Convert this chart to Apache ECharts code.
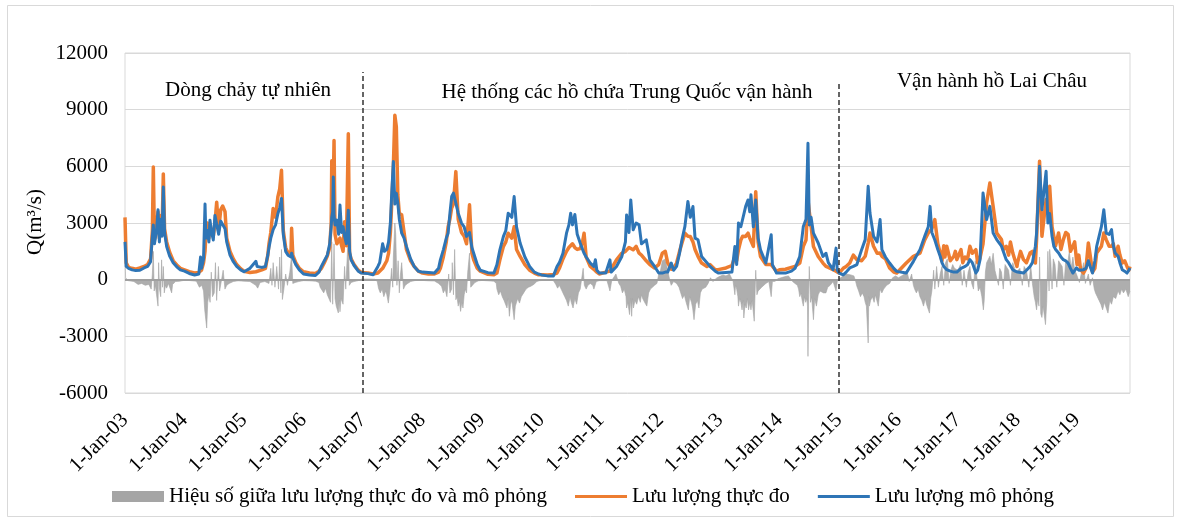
<!DOCTYPE html>
<html><head><meta charset="utf-8">
<script src="https://cdn.jsdelivr.net/npm/echarts@6/dist/echarts.min.js"></script>
<style>html,body{margin:0;padding:0;background:#fff}#c{width:1180px;height:522px}</style>
</head><body><div id="c"></div>
<script>
const yearTicks = ['1-Jan-03','1-Jan-04','1-Jan-05','1-Jan-06','1-Jan-07','1-Jan-08','1-Jan-09','1-Jan-10','1-Jan-11','1-Jan-12','1-Jan-13','1-Jan-14','1-Jan-15','1-Jan-16','1-Jan-17','1-Jan-18','1-Jan-19'];
const periodLabels = ['Dòng chảy tự nhiên','Hệ thống các hồ chứa Trung Quốc vận hành','Vận hành hồ Lai Châu'];
const periodBreaks = [2007, 2015];
const seriesNames = ['Hiệu số giữa lưu lượng thực đo và mô phỏng','Lưu lượng thực đo','Lưu lượng mô phỏng'];
const yTitle = 'Q(m³/s)';

// decimal year of each flow point
const flowDates = [
2003.000,2003.020,2003.060,2003.120,2003.180,2003.250,2003.320,2003.380,2003.430,2003.460,2003.476,2003.495,2003.530,2003.555,2003.578,2003.600,2003.622,2003.644,2003.665,2003.700,2003.750,2003.810,2003.870,2003.930,
2004.000,2004.080,2004.170,2004.240,2004.270,2004.285,2004.320,2004.345,2004.360,2004.385,2004.410,2004.428,2004.455,2004.484,2004.512,2004.541,2004.574,2004.608,2004.641,2004.681,2004.709,2004.765,2004.821,2004.877,2004.944,
2005.000,2005.100,2005.200,2005.220,2005.300,2005.360,2005.400,2005.420,2005.450,2005.490,2005.530,2005.570,2005.600,2005.630,2005.660,2005.700,2005.740,2005.790,2005.800,2005.820,2005.870,2005.930,
2006.000,2006.100,2006.200,2006.260,2006.300,2006.350,2006.400,2006.440,2006.465,2006.475,2006.490,2006.501,2006.513,2006.530,2006.560,2006.590,2006.613,2006.640,2006.665,2006.690,2006.720,2006.753,2006.775,2006.800,2006.850,2006.920,2006.970,
2007.000,2007.080,2007.170,2007.250,2007.280,2007.330,2007.360,2007.400,2007.430,2007.460,2007.480,2007.510,2007.535,2007.560,2007.585,2007.610,2007.650,2007.690,2007.730,2007.800,2007.860,2007.930,
2008.000,2008.100,2008.200,2008.270,2008.300,2008.350,2008.400,2008.430,2008.460,2008.490,2008.520,2008.560,2008.600,2008.655,2008.700,2008.740,2008.790,2008.830,2008.860,2008.920,2008.970,
2009.000,2009.100,2009.200,2009.250,2009.300,2009.360,2009.400,2009.440,2009.500,2009.540,2009.580,2009.640,2009.720,2009.800,2009.880,2009.950,
2010.000,2010.100,2010.200,2010.260,2010.300,2010.360,2010.420,2010.460,2010.490,2010.520,2010.560,2010.600,2010.650,2010.690,2010.715,2010.750,2010.820,2010.880,2010.905,2010.930,2010.970,
2011.000,2011.080,2011.150,2011.170,2011.260,2011.350,2011.410,2011.430,2011.470,2011.500,2011.540,2011.590,2011.640,2011.680,2011.760,2011.820,2011.900,2011.970,
2012.000,2012.030,2012.080,2012.120,2012.180,2012.220,2012.270,2012.320,2012.360,2012.410,2012.460,2012.500,2012.545,2012.580,2012.630,2012.690,2012.780,2012.830,2012.920,2012.970,
2013.000,2013.100,2013.200,2013.250,2013.280,2013.310,2013.350,2013.380,2013.430,2013.470,2013.500,2013.520,2013.560,2013.600,2013.640,2013.680,2013.770,2013.860,2013.880,2013.950,
2014.000,2014.100,2014.200,2014.260,2014.340,2014.400,2014.445,2014.478,2014.500,2014.530,2014.570,2014.650,2014.730,2014.780,2014.820,2014.900,2014.950,2014.970,
2015.000,2015.070,2015.120,2015.180,2015.240,2015.300,2015.380,2015.440,2015.490,2015.520,2015.580,2015.640,2015.690,2015.720,2015.780,2015.850,2015.920,2015.970,
2016.000,2016.130,2016.250,2016.360,2016.440,2016.500,2016.530,2016.560,2016.610,2016.660,2016.700,2016.730,2016.760,2016.780,2016.810,2016.840,2016.870,2016.900,2016.930,2016.955,2016.980,
2017.000,2017.050,2017.080,2017.120,2017.160,2017.200,2017.240,2017.300,2017.330,2017.370,2017.420,2017.480,2017.535,2017.590,2017.650,2017.730,2017.760,2017.810,2017.850,2017.880,2017.920,2017.960,2017.990,
2018.000,2018.050,2018.100,2018.150,2018.210,2018.250,2018.300,2018.320,2018.370,2018.410,2018.480,2018.510,2018.540,2018.580,2018.610,2018.640,2018.690,2018.730,2018.770,2018.810,2018.850,2018.890,2018.930,2018.960,2018.990,
2019.000,2019.030,2019.060,2019.110,2019.150,2019.190,2019.220,2019.260,2019.300,2019.330,2019.410,2019.450,2019.490,2019.540,2019.580,2019.610,2019.640,2019.690,2019.720,2019.760,2019.800,2019.840,2019.870,2019.890
];
// observed discharge (m3/s)
const observed = [
3300,900,650,600,560,620,700,800,1100,2600,5960,2100,2800,3600,2200,3400,2500,5600,2700,2000,1450,1000,780,600,
520,420,350,380,450,500,900,1500,2400,3000,2200,2800,2600,2300,3000,4100,2600,3700,3900,3600,2200,1500,1100,800,580,
450,380,420,500,520,600,1300,1900,2500,3770,3300,4400,4800,5790,2600,1700,1400,1500,2720,1300,900,600,
420,350,330,450,600,900,1250,1700,3000,6300,3400,5000,7370,2400,1900,2000,2200,1800,1500,3070,1800,7720,1400,1100,800,500,380,
380,350,300,350,400,600,700,1000,1400,2500,3870,6000,8700,8100,4500,3500,3430,2500,1600,1000,700,450,
350,300,300,400,600,1200,2000,2800,3200,3800,4000,5720,3200,2500,2300,1900,3960,1400,1050,600,450,
350,280,260,350,1050,1760,2000,2460,2200,2800,1600,1230,800,500,350,260,
260,250,280,350,600,1100,1500,1700,1800,1900,1700,1600,1650,2000,2460,1200,700,550,500,400,300,
350,400,450,450,1050,1400,1500,1580,1700,1750,1580,1760,1400,1300,1000,800,620,800,
900,1400,1500,900,550,600,880,1500,1940,2460,2300,2290,2000,1600,1230,880,700,800,530,530,
600,620,750,1230,1000,1580,2100,2300,2290,2460,2200,2100,1760,4660,2000,1230,800,800,700,440,
530,550,650,700,880,1760,2100,4220,3600,2820,1760,1230,880,700,650,530,450,400,
350,600,700,880,1300,1060,1000,1240,1940,2470,1770,1400,1410,1240,1100,620,400,350,
400,880,1240,1400,2100,2470,2500,2700,3180,1900,1410,1000,1800,1200,1770,1800,1000,900,1240,1500,1060,
1100,1590,900,1200,1100,1770,1400,1590,900,1150,1900,4060,5120,3880,2470,2120,1600,1770,1300,2000,1410,1000,700,
900,1500,1060,900,1410,1500,880,2120,6270,2300,4240,3500,4940,2800,2300,1800,2470,1600,2120,2500,2400,1500,1770,2000,1060,
800,1300,530,350,600,1940,1300,400,600,1410,1770,2470,2120,1770,1770,1900,1240,1770,1300,880,1000,700,500,700
];
// simulated discharge (m3/s)
const simulated = [
2000,700,600,520,480,500,620,700,950,2300,2900,1900,2600,3700,2000,3200,2300,4900,2500,1750,1250,900,680,520,
450,330,250,300,1200,600,1100,4000,2200,2600,2000,3150,2500,2100,3400,3500,2400,3100,3000,2700,2000,1300,950,700,520,
420,600,970,700,650,700,1300,1700,2200,2650,2900,3500,3800,4300,2400,1500,1300,1200,1400,1150,800,520,
300,250,220,400,700,1000,1300,1900,2800,3300,3600,5440,3400,2900,3150,2400,3950,2500,2800,2300,1900,3680,1500,1050,750,450,350,
300,320,260,700,900,1900,1500,1600,2000,3000,4400,6250,4000,4580,4050,3200,2460,2200,1760,1100,700,450,
400,380,350,600,1050,1580,2200,2460,3500,4400,4580,4050,3520,3000,2800,2290,2500,1700,1400,800,500,
400,370,350,790,1580,2290,2600,3520,3300,4400,2800,1940,1200,700,400,300,
250,200,200,700,900,1400,2460,2900,3520,2900,3450,2400,1940,1600,1400,1200,880,700,1050,500,350,
300,350,1050,400,700,1230,2000,3430,2500,4220,2640,3000,2900,1900,2110,1050,700,350,
350,350,400,400,880,500,700,1400,2110,2820,4140,3300,3870,2200,2110,1230,900,700,450,350,
350,380,400,1760,800,3000,2800,3200,3870,4220,3600,4490,2800,4220,2200,1580,880,2380,800,350,
350,350,450,600,1230,2820,3200,7220,2900,3300,2460,1940,1230,1400,900,530,1670,500,
350,260,400,620,700,800,1590,2120,4940,3530,2300,2000,3180,1590,1200,880,600,440,
400,350,970,1590,2300,2800,3880,2500,2100,1600,1240,900,700,600,530,480,450,420,400,400,400,
450,600,650,700,800,1060,900,350,500,1060,4590,3180,3880,2470,2120,1770,1500,1060,900,800,530,450,350,
400,380,350,500,700,900,1770,2470,6000,3700,5740,3000,3500,2300,1770,1600,1410,1200,1060,1000,880,600,350,400,620,
700,500,450,530,600,1000,700,350,1000,1770,2820,3700,2470,2400,2650,1800,1410,1240,900,530,450,350,500,620
];
// decimal year of each difference point
const diffDates = [
2003.000,2003.010,2003.050,2003.150,2003.220,2003.280,2003.340,2003.400,2003.440,2003.460,2003.476,2003.490,2003.510,2003.530,2003.555,2003.565,2003.580,2003.600,2003.615,2003.630,2003.644,2003.660,2003.680,2003.700,2003.730,2003.784,2003.800,2003.850,2003.920,
2004.000,2004.100,2004.200,2004.250,2004.290,2004.320,2004.340,2004.373,2004.390,2004.410,2004.430,2004.450,2004.470,2004.500,2004.520,2004.540,2004.570,2004.590,2004.620,2004.650,2004.680,2004.710,2004.750,2004.820,2004.900,
2005.000,2005.100,2005.200,2005.230,2005.270,2005.350,2005.420,2005.450,2005.470,2005.490,2005.520,2005.550,2005.580,2005.600,2005.620,2005.630,2005.645,2005.670,2005.700,2005.730,2005.770,2005.800,2005.820,2005.860,2005.920,
2006.000,2006.100,2006.200,2006.260,2006.280,2006.310,2006.340,2006.370,2006.400,2006.430,2006.455,2006.475,2006.490,2006.500,2006.513,2006.530,2006.550,2006.585,2006.600,2006.613,2006.630,2006.665,2006.690,2006.710,2006.753,2006.770,2006.800,2006.850,2006.920,2006.970,
2007.000,2007.100,2007.200,2007.240,2007.260,2007.290,2007.320,2007.350,2007.380,2007.400,2007.426,2007.450,2007.480,2007.500,2007.510,2007.535,2007.550,2007.570,2007.590,2007.610,2007.630,2007.650,2007.680,2007.710,2007.750,2007.800,2007.870,2007.950,
2008.000,2008.100,2008.200,2008.270,2008.320,2008.350,2008.380,2008.410,2008.440,2008.460,2008.490,2008.500,2008.520,2008.540,2008.560,2008.580,2008.600,2008.620,2008.640,2008.660,2008.680,2008.700,2008.720,2008.740,2008.760,2008.790,2008.810,2008.840,2008.880,2008.940,
2009.000,2009.100,2009.200,2009.240,2009.250,2009.280,2009.310,2009.340,2009.370,2009.400,2009.420,2009.440,2009.460,2009.480,2009.500,2009.520,2009.540,2009.560,2009.580,2009.600,2009.630,2009.660,2009.700,2009.740,2009.780,2009.820,2009.870,2009.920,2009.970,
2010.000,2010.100,2010.200,2010.240,2010.270,2010.300,2010.330,2010.360,2010.390,2010.420,2010.450,2010.480,2010.500,2010.530,2010.560,2010.590,2010.620,2010.650,2010.670,2010.700,2010.720,2010.750,2010.780,2010.820,2010.860,2010.880,2010.920,2010.970,
2011.000,2011.100,2011.150,2011.180,2011.250,2011.300,2011.330,2011.360,2011.390,2011.420,2011.430,2011.450,2011.480,2011.500,2011.515,2011.530,2011.545,2011.570,2011.600,2011.630,2011.660,2011.680,2011.700,2011.740,2011.770,2011.800,2011.830,2011.860,2011.900,2011.940,2011.970,
2012.000,2012.030,2012.080,2012.120,2012.160,2012.180,2012.220,2012.270,2012.310,2012.340,2012.370,2012.400,2012.430,2012.468,2012.490,2012.520,2012.540,2012.563,2012.590,2012.620,2012.645,2012.670,2012.700,2012.730,2012.760,2012.800,2012.840,2012.880,2012.940,2012.980,
2013.000,2013.050,2013.100,2013.160,2013.220,2013.250,2013.260,2013.280,2013.300,2013.310,2013.330,2013.350,2013.370,2013.390,2013.400,2013.420,2013.440,2013.460,2013.480,2013.500,2013.520,2013.540,2013.575,2013.600,2013.620,2013.640,2013.670,2013.700,2013.730,2013.770,2013.820,2013.860,2013.880,2013.930,2013.970,
2014.000,2014.080,2014.150,2014.220,2014.260,2014.300,2014.320,2014.340,2014.360,2014.380,2014.400,2014.420,2014.440,2014.460,2014.470,2014.478,2014.490,2014.500,2014.520,2014.540,2014.570,2014.590,2014.620,2014.650,2014.680,2014.710,2014.740,2014.780,2014.810,2014.850,2014.900,2014.950,2014.970,
2015.000,2015.050,2015.120,2015.200,2015.250,2015.280,2015.300,2015.330,2015.360,2015.390,2015.420,2015.440,2015.460,2015.490,2015.500,2015.510,2015.530,2015.560,2015.590,2015.610,2015.660,2015.690,2015.720,2015.750,2015.800,2015.850,2015.900,2015.950,
2016.000,2016.050,2016.100,2016.140,2016.180,2016.220,2016.250,2016.270,2016.300,2016.330,2016.360,2016.390,2016.420,2016.450,2016.470,2016.520,2016.540,2016.560,2016.590,2016.610,2016.640,2016.670,2016.700,2016.730,2016.760,2016.790,2016.820,2016.850,2016.880,2016.910,2016.940,2016.970,
2017.000,2017.040,2017.070,2017.100,2017.140,2017.170,2017.200,2017.230,2017.260,2017.290,2017.310,2017.340,2017.370,2017.400,2017.426,2017.440,2017.460,2017.480,2017.500,2017.535,2017.560,2017.590,2017.620,2017.650,2017.680,2017.700,2017.730,2017.760,2017.790,2017.820,2017.850,2017.880,2017.920,2017.950,2017.980,
2018.000,2018.040,2018.080,2018.110,2018.150,2018.190,2018.220,2018.250,2018.280,2018.300,2018.320,2018.340,2018.360,2018.370,2018.390,2018.410,2018.430,2018.450,2018.470,2018.490,2018.510,2018.530,2018.540,2018.560,2018.580,2018.600,2018.630,2018.660,2018.690,2018.720,2018.750,2018.780,2018.810,2018.840,2018.870,2018.900,2018.930,2018.960,2018.990,
2019.000,2019.040,2019.070,2019.110,2019.140,2019.190,2019.220,2019.260,2019.290,2019.310,2019.340,2019.370,2019.400,2019.430,2019.460,2019.490,2019.520,2019.550,2019.580,2019.610,2019.650,2019.690,2019.720,2019.750,2019.780,2019.820,2019.860,2019.890
];
// observed minus simulated (m3/s)
const difference = [
1300,100,-50,-100,-250,-200,-300,-250,-500,300,1500,-600,-300,-800,-1400,900,-500,-900,1050,-400,700,-700,-300,-450,-200,-700,-250,-100,-80,
-30,-50,-80,-400,-300,-600,-1600,-2560,-1200,-800,-1200,400,-900,-700,900,-1100,700,-600,-500,500,-500,-300,-200,-100,-60,
-80,-100,-300,-450,-150,-100,-200,600,-300,900,-400,700,-500,1200,-700,1600,-1050,-500,300,-300,400,1300,-200,-150,-100,
-50,-60,-80,-150,-400,-500,-700,-450,-800,-900,-1200,2000,-1300,-200,1900,-1000,-1400,-1760,-1100,-1700,-1000,-1300,700,-500,2500,-300,-150,-100,-50,30,
50,30,20,-100,-450,-700,-500,-900,-600,-800,-1240,-600,600,-400,1200,3000,2400,-300,1000,-700,300,900,-500,-300,-200,-100,-50,-30,
-40,-60,-70,-200,-350,-700,-500,-900,300,-700,-500,900,-800,1600,-1060,-900,-1400,-1100,-1680,-1200,-1500,-800,-500,-700,400,1400,-400,-300,-150,-60,
-40,-60,-80,-200,-500,-800,-600,-900,-1100,-1060,-1500,-1000,-1940,-1300,-1100,-1600,-2120,-1400,-1200,-1000,-1240,-900,-700,-500,-400,-350,-250,-100,-50,
-30,-30,-50,-250,-450,-300,-500,-700,-900,-1100,-1400,-900,-1200,-1500,-1000,-1300,-700,-500,-450,600,-300,-500,-300,-200,-300,-500,-100,-50,
-40,-50,-600,-50,300,-200,-350,-700,-500,-900,-1500,-1200,-1850,-1000,-1940,-1000,-1500,-1100,-1300,-900,-1200,-800,-1000,-1240,-1400,-700,-500,-400,-300,-200,300,
500,1000,1100,500,-100,-300,-100,-200,-400,-700,-1000,-800,-1200,-1600,-900,-1200,-1500,-2120,-1300,-1100,-1500,-700,-500,-600,-400,-200,100,-100,80,150,
200,250,200,300,-100,-800,-300,-500,-900,-1400,-1000,-1200,-1600,-1100,-2030,-1300,-1500,-1000,-1600,-1200,-1600,-1100,-2200,500,-800,-600,-700,-400,-350,-200,-100,-900,-100,-80,50,
150,150,200,-100,-200,-300,-500,-900,-700,-1100,-1400,-900,-1200,-1000,-1400,-4060,-800,700,-1200,-900,-2120,-1000,-1400,-800,-600,-500,-700,-700,-400,-300,-100,-600,-100,
50,150,300,250,200,-100,-350,-600,-900,-700,-900,-1200,-1400,-3350,-900,-1400,-1100,-900,-1200,-800,-1400,-500,-700,-500,-300,-200,100,200,
100,200,300,500,-100,300,-300,-500,-700,-500,-900,-1100,-1400,-1000,-1300,-1770,-1000,-600,500,-500,700,-400,300,700,-300,900,1100,-200,500,800,600,700,
500,800,-300,500,-400,400,700,-200,-500,1000,900,-600,-400,-900,-1600,-1100,400,900,1000,1240,800,1400,500,400,-300,600,400,-500,800,900,500,-300,900,600,400,
300,600,-300,700,500,-400,800,-200,-900,-1200,-1600,-1000,-1400,1200,-1800,-2000,-1400,-1900,-2380,-1200,1500,-600,1600,900,-500,1100,800,-400,1000,900,700,-300,1000,800,1500,600,1200,500,300,
200,-150,300,900,-200,300,-300,100,-500,-700,-900,-1100,-1300,-1600,-1200,-1500,-1770,-1100,-1300,-900,-1000,-600,-800,-500,-700,-500,-900,-600
];

const zip = (xs, ys) => xs.map((x, i) => [x, ys[i]]);
const FONT = 'Liberation Serif';
const LINE_ICON = 'path://M0,0L52,0L52,3L0,3Z';
const chart = echarts.init(document.getElementById('c'), null, {renderer: 'canvas'});
chart.setOption({
  animation: false,
  backgroundColor: '#fff',
  textStyle: {fontFamily: FONT},
  grid: {left: 125, right: 50, top: 53, bottom: 129, show: true, borderColor: '#d9d9d9', borderWidth: 1, backgroundColor: 'transparent'},
  xAxis: {
    type: 'value', min: 2003, max: 2019.89, interval: 1,
    axisLine: {show: false}, axisTick: {show: false}, splitLine: {show: false},
    axisLabel: {
      rotate: 45, margin: 24, fontSize: 21, color: '#000', fontFamily: FONT, showMaxLabel: false,
      formatter: v => {
        const r = Math.round(v);
        if (Math.abs(v - r) > 1e-6) return '';
        return yearTicks[r - 2003] || '';
      }
    }
  },
  yAxis: {
    type: 'value', min: -6000, max: 12000, interval: 3000,
    axisLine: {show: false}, axisTick: {show: false},
    splitLine: {lineStyle: {color: '#d9d9d9', width: 1}},
    axisLabel: {fontSize: 21, color: '#000', margin: 17, fontFamily: FONT, formatter: v => String(v)}
  },
  legend: {
    left: 112, top: 486, padding: 0, itemGap: 28, itemWidth: 52, itemHeight: 11,
    textStyle: {fontSize: 21, color: '#000', fontFamily: FONT},
    data: [
      {name: seriesNames[0], icon: 'rect'},
      {name: seriesNames[1], icon: LINE_ICON},
      {name: seriesNames[2], icon: LINE_ICON}
    ]
  },
  graphic: [
    {type: 'rect', shape: {x: 7.5, y: 5.5, width: 1166, height: 511}, style: {fill: 'none', stroke: '#d9d9d9', lineWidth: 1}, silent: true, z: -10},
    {type: 'text', x: 248, y: 90, style: {text: periodLabels[0], font: '21px "Liberation Serif"', fill: '#000', textAlign: 'center', textVerticalAlign: 'middle'}},
    {type: 'text', x: 627, y: 92, style: {text: periodLabels[1], font: '21px "Liberation Serif"', fill: '#000', textAlign: 'center', textVerticalAlign: 'middle'}},
    {type: 'text', x: 992, y: 81, style: {text: periodLabels[2], font: '21px "Liberation Serif"', fill: '#000', textAlign: 'center', textVerticalAlign: 'middle'}},
    {type: 'text', x: 35, y: 222, rotation: Math.PI / 2, style: {text: yTitle, font: '21px "Liberation Serif"', fill: '#000', textAlign: 'center', textVerticalAlign: 'middle'}}
  ],
  series: [
    {
      name: seriesNames[0], type: 'line', data: zip(diffDates, difference), symbol: 'none', z: 1,
      color: '#a5a5a5',
      lineStyle: {width: 0.6, color: '#a5a5a5'},
      areaStyle: {color: '#a5a5a5', opacity: 0.9},
      markLine: {silent: true, symbol: 'none', label: {show: false},
        lineStyle: {color: '#a0a0a0', width: 2, type: 'solid'}, data: [{yAxis: 0}]}
    },
    {
      name: seriesNames[1], type: 'line', data: zip(flowDates, observed), symbol: 'none', z: 2,
      color: '#ED7D31',
      lineStyle: {width: 3.5, color: '#ED7D31', join: 'round'}
    },
    {
      name: seriesNames[2], type: 'line', data: zip(flowDates, simulated), symbol: 'none', z: 3,
      color: '#2E75B6',
      lineStyle: {width: 3, color: '#2E75B6', join: 'round'},
      markLine: {silent: true, symbol: 'none', label: {show: false},
        lineStyle: {color: '#333', width: 1.5, type: [5, 3]},
        data: [
          [{coord: [periodBreaks[0], -6000]}, {coord: [periodBreaks[0], 10990]}],
          [{coord: [periodBreaks[1], -6000]}, {coord: [periodBreaks[1], 10510]}]
        ]}
    }
  ]
});
</script>
</body></html>
